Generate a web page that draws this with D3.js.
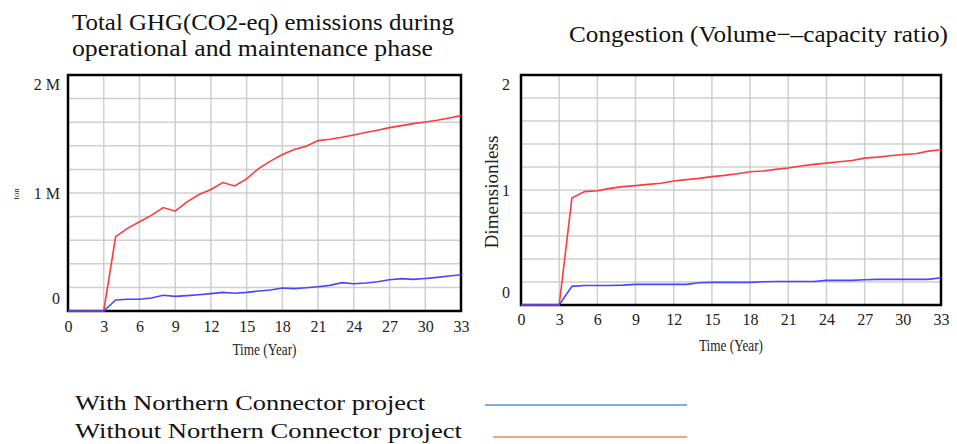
<!DOCTYPE html>
<meta charset="utf-8">
<style>
body { margin: 0; background: #fff; }
svg { display: block; font-family: "Liberation Serif", "DejaVu Serif", serif; }
.grid line { stroke: #cfcfcf; stroke-width: 1.5px; }
.frame { fill: none; stroke: #000; stroke-width: 2.5px; }
.line { fill: none; stroke-width: 1.6px; }
.axis path, .axis line { display: none; }
.axis text { font-family: "Liberation Serif", serif; font-size: 16px; fill: #222; }
</style>
<svg width="957" height="444"></svg>
<script src="https://d3js.org/d3.v7.min.js"></script>
<script>

// years shown on both charts
var years = d3.range(0, 34);

// Total GHG emissions (ton)
var ghgWithout = [0, 0, 0, 0, 630000, 700000, 756000, 810000, 877000, 846000, 925000, 987000,
  1030000, 1089000, 1060000, 1120000, 1207000, 1270000, 1326000, 1368000, 1396000, 1444000,
  1456000, 1472000, 1492000, 1512000, 1532000, 1554000, 1571000, 1588000, 1602000, 1616000,
  1636000, 1656000];
var ghgWith = [0, 0, 0, 0, 93000, 100000, 100000, 110000, 133000, 124000, 130000, 138000,
  147000, 158000, 150000, 158000, 169000, 178000, 195000, 190000, 197000, 206000, 217000,
  240000, 231000, 237000, 248000, 265000, 274000, 268000, 276000, 285000, 296000, 307000];

// Congestion (volume/capacity ratio)
var congWithout = [0, 0, 0, 0, 0.93, 0.986, 0.994, 1.014, 1.029, 1.038, 1.049, 1.058, 1.078,
  1.09, 1.101, 1.116, 1.127, 1.142, 1.159, 1.165, 1.179, 1.191, 1.208, 1.223, 1.234, 1.246,
  1.257, 1.277, 1.286, 1.298, 1.309, 1.315, 1.338, 1.35];
var congWith = [0, 0, 0, 0, 0.162, 0.17, 0.17, 0.17, 0.173, 0.179, 0.179, 0.179, 0.179, 0.179,
  0.194, 0.197, 0.197, 0.197, 0.197, 0.202, 0.205, 0.205, 0.205, 0.205, 0.214, 0.214, 0.214,
  0.22, 0.223, 0.223, 0.223, 0.223, 0.223, 0.237];

var xTicks = d3.range(0, 34, 3);
var legendLabels = ["With Northern Connector project", "Without Northern Connector project"];
var legendColors = ["#7eaee0", "#f5a27a"];

var svg = d3.select("svg");
svg.append("rect").attr("width", 957).attr("height", 444).attr("fill", "#fff");

function chart(opt) {
  var x = d3.scaleLinear().domain([0, 33]).range([opt.left, opt.right]),
      y = d3.scaleLinear().domain([0, opt.max]).range([opt.bottom, opt.top]);

  var g = svg.append("g");

  g.append("g").attr("class", "grid")
    .selectAll("line.h").data(d3.range(1, 10).map(function(i) { return opt.max * i / 10; }))
    .enter().append("line")
      .attr("x1", opt.left).attr("x2", opt.right)
      .attr("y1", y).attr("y2", y);

  g.append("g").attr("class", "grid")
    .selectAll("line.v").data(xTicks.slice(1, -1))
    .enter().append("line")
      .attr("y1", opt.top).attr("y2", opt.bottom)
      .attr("x1", x).attr("x2", x);

  g.append("rect").attr("class", "frame")
    .attr("x", opt.left).attr("y", opt.top)
    .attr("width", opt.right - opt.left).attr("height", opt.bottom - opt.top);

  var line = d3.line()
    .x(function(d, i) { return x(years[i]); })
    .y(function(d) { return y(d); });

  g.append("path").datum(opt.without).attr("class", "line")
    .attr("stroke", "#ff3a3a").attr("d", line);
  g.append("path").datum(opt.with).attr("class", "line")
    .attr("stroke", "#4646ff").attr("d", line);

  g.append("g").attr("class", "axis")
    .attr("transform", "translate(0," + opt.bottom + ")")
    .call(d3.axisBottom(x).tickValues(xTicks).tickSize(0).tickPadding(opt.xPad))
    .selectAll("text").attr("dy", "0.32em").attr("y", opt.xPad + 4);

  var ya = g.append("g").attr("class", "axis")
    .attr("transform", "translate(" + opt.left + ",0)")
    .call(d3.axisLeft(y).tickValues([0, opt.max / 2, opt.max]).tickSize(0)
      .tickPadding(opt.yPad).tickFormat(opt.fmt));
  ya.selectAll("text")
    .attr("dy", function(d) { return d === 0 ? "-0.45em" : d === opt.max ? "0.9em" : "0.32em"; });

  g.append("text")
    .attr("x", (opt.left + opt.right) / 2).attr("y", opt.xLabelY)
    .attr("text-anchor", "middle").attr("font-size", 17).attr("fill", "#222")
    .attr("textLength", 64).attr("lengthAdjust", "spacingAndGlyphs")
    .text("Time (Year)");

  g.append("text")
    .attr("transform", "translate(" + opt.yLabelX + "," + opt.yLabelY + ") rotate(-90)")
    .attr("text-anchor", "middle").attr("font-size", opt.yLabelSize).attr("fill", "#222")
    .attr("textLength", opt.yLabelLen).attr("lengthAdjust", "spacingAndGlyphs")
    .text(opt.yLabel);
}

chart({
  left: 68, right: 461, top: 75, bottom: 311, max: 2000000,
  without: ghgWithout, with: ghgWith, xPad: 12, yPad: 8, xLabelY: 355,
  fmt: function(d) { return d === 0 ? "0" : (d / 1e6) + " M"; },
  yLabel: "ton", yLabelX: 19, yLabelY: 194, yLabelSize: 8, yLabelLen: 11
});

chart({
  left: 521, right: 941, top: 75, bottom: 305, max: 2,
  without: congWithout, with: congWith, xPad: 11, yPad: 11, xLabelY: 351,
  fmt: d3.format("d"),
  yLabel: "Dimensionless", yLabelX: 498, yLabelY: 192, yLabelSize: 18, yLabelLen: 113
});

// titles
var titleFont = 23;
svg.append("text").attr("x", 72).attr("y", 30).attr("font-size", titleFont).attr("fill", "#111")
  .attr("textLength", 382).attr("lengthAdjust", "spacingAndGlyphs")
  .text("Total GHG(CO2-eq) emissions during");
svg.append("text").attr("x", 72).attr("y", 56).attr("font-size", titleFont).attr("fill", "#111")
  .attr("textLength", 361).attr("lengthAdjust", "spacingAndGlyphs")
  .text("operational and maintenance phase");
svg.append("text").attr("x", 569).attr("y", 42).attr("font-size", titleFont).attr("fill", "#111")
  .attr("textLength", 379).attr("lengthAdjust", "spacingAndGlyphs")
  .text("Congestion (Volume\u2212\u2013capacity ratio)");

// legend
var legend = svg.append("g").selectAll("g").data(legendLabels).enter().append("g");
legend.append("text")
  .attr("x", 75).attr("y", function(d, i) { return 410 + i * 28; })
  .attr("font-size", 20).attr("fill", "#111")
  .attr("textLength", function(d, i) { return i === 0 ? 350 : 387; })
  .attr("lengthAdjust", "spacingAndGlyphs")
  .text(function(d) { return d; });
legend.append("line")
  .attr("x1", function(d, i) { return i === 0 ? 485 : 493; }).attr("x2", 687)
  .attr("y1", function(d, i) { return 405 + i * 32; })
  .attr("y2", function(d, i) { return 405 + i * 32; })
  .attr("stroke", function(d, i) { return legendColors[i]; })
  .attr("stroke-width", 1.8);

</script>
